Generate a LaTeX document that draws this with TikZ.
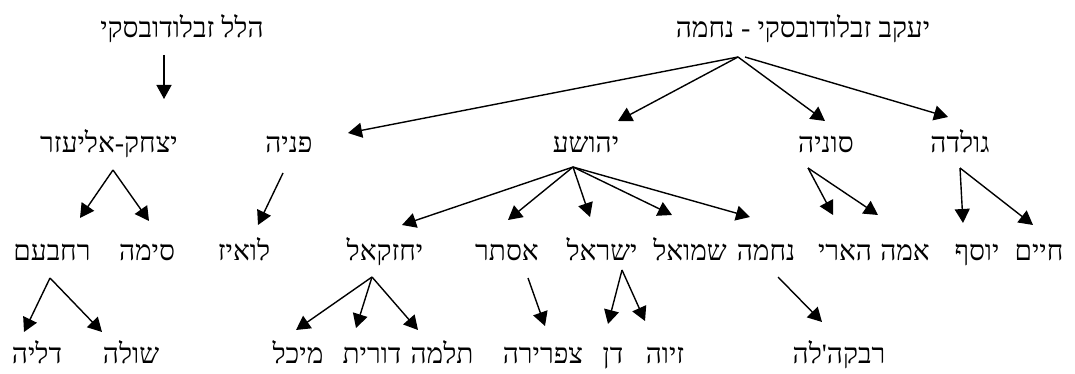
\documentclass[tikz,border=0pt]{standalone}
\usepackage{fontspec}
\usetikzlibrary{arrows.meta}
\TeXXeTstate=1
\newfontfamily\heb[Script=Hebrew,Ligatures=TeXOff]{Liberation Serif}

\begin{document}
\begin{tikzpicture}[x=1pt,y=-1pt,
  person/.style={font=\heb\fontsize{28}{33}\selectfont, inner sep=0pt, anchor=base},
  link/.style={line width=1.4pt, -{Triangle[length=14pt,width=15pt]}}]
\useasboundingbox (0,0) rectangle (1075,374);

% row 0
\node[person] (hillel) at (182,38) {\beginR הלל זבלודובסקי\endR};
\node[person] (yaakov) at (803,38) {\beginR יעקב זבלודובסקי - נחמה\endR};
% row 1
\node[person] (yitzchak) at (109,153) {\beginR יצחק-אליעזר\endR};
\node[person] (pnia) at (289,153) {\beginR פניה\endR};
\node[person] (yehoshua) at (586,153) {\beginR יהושע\endR};
\node[person] (sonia) at (826,153) {\beginR סוניה\endR};
\node[person] (golda) at (960,153) {\beginR גולדה\endR};
% row 2
\node[person] (rechavam) at (52,260) {\beginR רחבעם\endR};
\node[person] (sima) at (147,260) {\beginR סימה\endR};
\node[person] (louise) at (244,260) {\beginR לואיז\endR};
\node[person] (yechezkel) at (385,260) {\beginR יחזקאל\endR};
\node[person] (esther) at (507,260) {\beginR אסתר\endR};
\node[person] (israel) at (602,260) {\beginR ישראל\endR};
\node[person] (shmuel) at (690,260) {\beginR שמואל\endR};
\node[person] (nechama) at (766,260) {\beginR נחמה\endR};
\node[person] (harry) at (845,260) {\beginR הארי\endR};
\node[person] (emma) at (905,260) {\beginR אמה\endR};
\node[person] (yosef) at (977,260) {\beginR יוסף\endR};
\node[person] (chaim) at (1039,260) {\beginR חיים\endR};
% row 3
\node[person] (dalia) at (37,363) {\beginR דליה\endR};
\node[person] (shula) at (131,363) {\beginR שולה\endR};
\node[person] (michal) at (298,363) {\beginR מיכל\endR};
\node[person] (dorit) at (372,363) {\beginR דורית\endR};
\node[person] (talma) at (442,363) {\beginR תלמה\endR};
\node[person] (tzfira) at (543,363) {\beginR צפרירה\endR};
\node[person] (dan) at (613,363) {\beginR דן\endR};
\node[person] (ziva) at (665,363) {\beginR זיוה\endR};
\node[person] (rivkale) at (839,363) {\beginR רבקה'לה\endR};

% connector ends
\coordinate (hilA) at (164,55);   \coordinate (hilT) at (164,99);
\coordinate (yaA) at (738,57);    \coordinate (yaB) at (745,57);
\coordinate (pniaT) at (348,133); \coordinate (yehT) at (618,121);
\coordinate (sonT) at (825,121);  \coordinate (golT) at (948,117);
\coordinate (yitA) at (113,170);  \coordinate (rechT) at (80,218);
\coordinate (simaT) at (149,221);
\coordinate (pniaA) at (283,173); \coordinate (louT) at (258,225);
\coordinate (yehA) at (573,167);
\coordinate (yecT) at (402,225);  \coordinate (estT) at (508,220);
\coordinate (isrT) at (590,217);  \coordinate (shmT) at (672,215);
\coordinate (nchT) at (750,217);
\coordinate (sonA) at (808,168);  \coordinate (harT) at (833,215);
\coordinate (emmT) at (878,215);
\coordinate (golA) at (960,168);  \coordinate (yosT) at (963,223);
\coordinate (chaT) at (1033,225);
\coordinate (rechA) at (50,278);  \coordinate (dalT) at (24,332);
\coordinate (shuT) at (102,332);
\coordinate (yecA) at (372,277);  \coordinate (micT) at (296,330);
\coordinate (dorT) at (356,328);  \coordinate (talT) at (418,330);
\coordinate (estA) at (528,278);  \coordinate (tzfT) at (545,326);
\coordinate (isrA) at (622,270);  \coordinate (danT) at (608,324);
\coordinate (zivT) at (645,321);
\coordinate (nchA) at (778,277);  \coordinate (rivT) at (822,322);

\draw[link] (hilA) -- (hilT);
\draw[link] (yaA) -- (pniaT);
\draw[link] (yaA) -- (yehT);
\draw[link] (yaA) -- (sonT);
\draw[link] (yaB) -- (golT);
\draw[link] (yitA) -- (rechT);
\draw[link] (yitA) -- (simaT);
\draw[link] (pniaA) -- (louT);
\draw[link] (yehA) -- (yecT);
\draw[link] (yehA) -- (estT);
\draw[link] (yehA) -- (isrT);
\draw[link] (yehA) -- (shmT);
\draw[link] (yehA) -- (nchT);
\draw[link] (sonA) -- (harT);
\draw[link] (sonA) -- (emmT);
\draw[link] (golA) -- (yosT);
\draw[link] (golA) -- (chaT);
\draw[link] (rechA) -- (dalT);
\draw[link] (rechA) -- (shuT);
\draw[link] (yecA) -- (micT);
\draw[link] (yecA) -- (dorT);
\draw[link] (yecA) -- (talT);
\draw[link] (estA) -- (tzfT);
\draw[link] (isrA) -- (danT);
\draw[link] (isrA) -- (zivT);
\draw[link] (nchA) -- (rivT);
\end{tikzpicture}
\end{document}
